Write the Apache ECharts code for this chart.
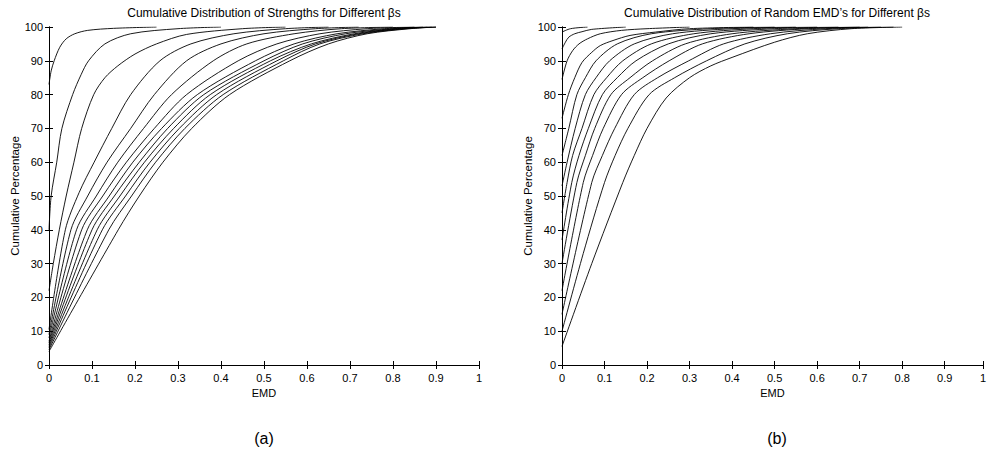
<!DOCTYPE html>
<html>
<head>
<meta charset="utf-8">
<title>Cumulative Distributions of EMD</title>
<script src="https://cdn.jsdelivr.net/npm/echarts@6/dist/echarts.min.js"></script>
<style>
  html, body { margin: 0; padding: 0; background: #fff; }
  #chart { width: 989px; height: 453px; }
</style>
</head>
<body>
<div id="chart"></div>
<script>
// EMD ticks and percentage ticks (same for both panels)
const emdTicks = [0, 0.1, 0.2, 0.3, 0.4, 0.5, 0.6, 0.7, 0.8, 0.9, 1];
const pctTicks = [0, 10, 20, 30, 40, 50, 60, 70, 80, 90, 100];

const titles = [
  'Cumulative Distribution of Strengths for Different \u03b2s',
  'Cumulative Distribution of Random EMD\u2019s for Different \u03b2s'
];
const panelTags = ['(a)', '(b)'];

// (a) strengths: one [EMD, cumulative %] list per beta
const strengthCurves = [
  [[0, 83], [0.005, 87], [0.012, 90], [0.025, 94], [0.04, 96.5], [0.06, 98], [0.09, 99], [0.15, 99.6], [0.25, 100]],
  [[0, 40], [0.005, 50], [0.018, 60], [0.03, 70], [0.055, 80], [0.075, 86], [0.092, 90], [0.13, 95], [0.19, 98], [0.3, 99.5], [0.4, 100]],
  [[0, 22], [0.01, 30], [0.024, 40], [0.04, 50], [0.058, 60], [0.076, 70], [0.104, 80], [0.13, 85], [0.16, 88.5], [0.2, 92], [0.25, 95], [0.32, 97.8], [0.45, 99.5], [0.55, 100]],
  [[0, 10.5], [0.038, 40], [0.07, 51], [0.105, 60], [0.146, 70], [0.19, 80], [0.258, 90], [0.33, 95], [0.43, 98], [0.55, 99.5], [0.65, 100]],
  [[0, 9], [0.051, 40], [0.09, 50], [0.135, 60], [0.19, 70], [0.245, 80], [0.32, 90], [0.40, 95], [0.5, 98], [0.62, 99.5], [0.72, 100]],
  [[0, 8], [0.064, 40], [0.11, 50], [0.16, 60], [0.22, 70], [0.285, 80], [0.382, 90], [0.46, 95], [0.57, 98], [0.68, 99.5], [0.8, 100]],
  [[0, 7], [0.076, 40], [0.125, 50], [0.18, 60], [0.245, 70], [0.32, 80], [0.44, 90], [0.53, 95], [0.63, 98], [0.74, 99.5], [0.85, 100]],
  [[0, 6.5], [0.089, 40], [0.14, 50], [0.195, 60], [0.262, 70], [0.345, 80], [0.48, 90], [0.57, 95], [0.67, 98], [0.78, 99.5], [0.87, 100]],
  [[0, 6], [0.1, 40], [0.152, 50], [0.21, 60], [0.276, 70], [0.36, 80], [0.5, 90], [0.59, 95], [0.69, 98], [0.8, 99.5], [0.88, 100]],
  [[0, 5.5], [0.112, 40], [0.165, 50], [0.222, 60], [0.29, 70], [0.375, 80], [0.515, 90], [0.61, 95], [0.71, 98], [0.81, 99.5], [0.89, 100]],
  [[0, 5], [0.124, 40], [0.178, 50], [0.235, 60], [0.303, 70], [0.39, 80], [0.53, 90], [0.62, 95], [0.72, 98], [0.82, 99.5], [0.9, 100]],
  [[0, 4.5], [0.139, 40], [0.192, 50], [0.248, 60], [0.316, 70], [0.405, 80], [0.545, 90], [0.63, 95], [0.73, 98], [0.83, 99.5], [0.9, 100]],
  [[0, 4], [0.161, 40], [0.21, 50], [0.265, 60], [0.332, 70], [0.42, 80], [0.56, 90], [0.65, 95], [0.74, 98], [0.84, 99.5], [0.9, 100]]
];

// (b) random EMDs
const randomCurves = [
  [[0, 98.5], [0.02, 99.5], [0.06, 100]],
  [[0, 93.5], [0.008, 95.5], [0.016, 97], [0.03, 98], [0.047, 98.6], [0.07, 99.3], [0.15, 100]],
  [[0, 84.5], [0.012, 90], [0.025, 93], [0.04, 95], [0.06, 96.5], [0.09, 98], [0.14, 99], [0.2, 99.5], [0.3, 100]],
  [[0, 73], [0.015, 80], [0.03, 85], [0.047, 89.5], [0.07, 92.5], [0.09, 94.5], [0.12, 96], [0.16, 97.5], [0.22, 98.5], [0.3, 99.5], [0.45, 100]],
  [[0, 62], [0.016, 70], [0.035, 80], [0.055, 85], [0.08, 90], [0.13, 95], [0.21, 98], [0.35, 99.5], [0.5, 100]],
  [[0, 53], [0.012, 60], [0.031, 70], [0.055, 80], [0.08, 85], [0.112, 90], [0.17, 95], [0.26, 98], [0.4, 99.5], [0.55, 100]],
  [[0, 45], [0.012, 54], [0.025, 62], [0.047, 70], [0.075, 80], [0.105, 85], [0.143, 90], [0.21, 95], [0.31, 98], [0.45, 99.5], [0.6, 100]],
  [[0, 37], [0.023, 54], [0.04, 62], [0.062, 70], [0.095, 80], [0.13, 85], [0.174, 90], [0.25, 95], [0.35, 98], [0.5, 99.5], [0.65, 100]],
  [[0, 30], [0.035, 54], [0.055, 62], [0.077, 70], [0.115, 80], [0.16, 85], [0.213, 90], [0.29, 95], [0.40, 98], [0.55, 99.5], [0.7, 100]],
  [[0, 22], [0.05, 54], [0.072, 62], [0.097, 70], [0.14, 80], [0.19, 85], [0.252, 90], [0.33, 95], [0.44, 98], [0.58, 99.5], [0.72, 100]],
  [[0, 15], [0.07, 54], [0.095, 62], [0.124, 70], [0.17, 80], [0.225, 85], [0.298, 90], [0.38, 95], [0.49, 98], [0.62, 99.5], [0.75, 100]],
  [[0, 10], [0.05, 33], [0.1, 54], [0.125, 62], [0.155, 70], [0.205, 80], [0.265, 85], [0.34, 90], [0.43, 95], [0.53, 98], [0.65, 99.5], [0.78, 100]],
  [[0, 5.5], [0.07, 30], [0.143, 54], [0.17, 62], [0.2, 70], [0.245, 79], [0.3, 85], [0.35, 88.5], [0.4, 91], [0.5, 95.5], [0.577, 98], [0.68, 99.5], [0.8, 100]]
];

const font = "'Liberation Sans', Arial, Helvetica, sans-serif";
const chart = echarts.init(document.getElementById('chart'), null, { renderer: 'svg' });

// panel boxes (MATLAB style)
const grids = [
  { left: 49, top: 27, width: 430, height: 338 },
  { left: 562, top: 27, width: 426, height: 338 }
];
const xMax = [1, 0.99];

const xAxes = [];
const yAxes = [];
grids.forEach((g, i) => {
  const tickIn = { show: true, inside: true, length: 4, lineStyle: { color: '#000', width: 1 } };
  const line = { show: true, lineStyle: { color: '#000', width: 1 } };
  xAxes.push({
    type: 'value', gridIndex: i, min: 0, max: xMax[i], interval: 0.1, position: 'bottom',
    axisLine: line, axisTick: tickIn, splitLine: { show: false },
    axisLabel: {
      color: '#000', fontFamily: font, fontSize: 11, margin: 7,
      formatter: v => (emdTicks.indexOf(Math.round(v * 10) / 10) >= 0 ? String(Math.round(v * 10) / 10) : '')
    },
    name: 'EMD', nameLocation: 'middle', nameGap: 22,
    nameTextStyle: { color: '#000', fontFamily: font, fontSize: 11 }
  });
  xAxes.push({
    type: 'value', gridIndex: i, min: 0, max: xMax[i], interval: 0.1, position: 'top',
    axisLine: line, axisTick: tickIn, axisLabel: { show: false }, splitLine: { show: false }
  });
  yAxes.push({
    type: 'value', gridIndex: i, min: 0, max: 100, interval: 10, position: 'left',
    axisLine: line, axisTick: tickIn, splitLine: { show: false },
    axisLabel: {
      color: '#000', fontFamily: font, fontSize: 11, margin: 6,
      formatter: v => (pctTicks.indexOf(v) >= 0 ? String(v) : '')
    },
    name: 'Cumulative Percentage', nameLocation: 'middle', nameGap: 27,
    nameTextStyle: { color: '#000', fontFamily: font, fontSize: 11.5 }
  });
  yAxes.push({
    type: 'value', gridIndex: i, min: 0, max: 100, interval: 10, position: 'right',
    axisLine: line, axisTick: tickIn, axisLabel: { show: false }, splitLine: { show: false }
  });
});

const series = [];
[strengthCurves, randomCurves].forEach((curves, i) => {
  curves.forEach((pts, k) => {
    series.push({
      name: (i === 0 ? 'strength ' : 'random ') + (k + 1),
      type: 'line',
      xAxisIndex: i * 2,
      yAxisIndex: i * 2,
      data: pts,
      showSymbol: false,
      smooth: 0.3,
      lineStyle: { color: '#000', width: 0.9 },
      silent: true
    });
  });
});

const graphic = [];
grids.forEach((g, i) => {
  const cx = g.left + 215;
  graphic.push({
    type: 'text', x: cx, y: 13,
    style: { text: titles[i], font: '12px ' + font, fill: '#000', align: 'center', verticalAlign: 'middle' }
  });
  graphic.push({
    type: 'text', x: cx, y: 438,
    style: { text: panelTags[i], font: '16px ' + font, fill: '#000', align: 'center', verticalAlign: 'middle' }
  });
});

chart.setOption({
  animation: false,
  backgroundColor: '#fff',
  grid: grids,
  xAxis: xAxes,
  yAxis: yAxes,
  series: series,
  graphic: graphic
});
</script>
</body>
</html>
